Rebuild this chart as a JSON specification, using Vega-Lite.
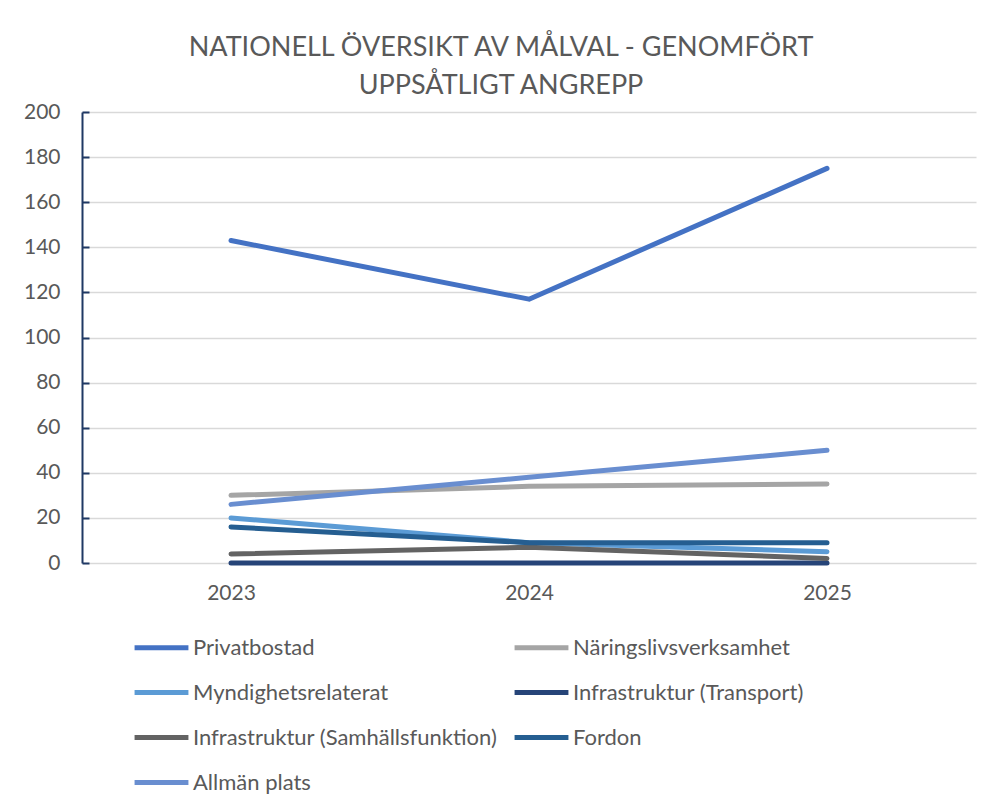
{
  "$schema": "https://vega.github.io/schema/vega-lite/v6.json",
  "autosize": "none",
  "width": 894,
  "height": 451,
  "padding": {"left": 82, "top": 112, "right": 16, "bottom": 247},
  "background": "white",
  "title": {
    "text": ["NATIONELL ÖVERSIKT AV MÅLVAL - GENOMFÖRT", "UPPSÅTLIGT ANGREPP"],
    "font": "Lato",
    "fontSize": 27,
    "fontWeight": "normal",
    "color": "#595959",
    "lineHeight": 38,
    "anchor": "middle",
    "dx": -28,
    "offset": 1
  },
  "data": {
    "values": [
      {"year": "2023", "series": "Privatbostad", "value": 143},
      {"year": "2024", "series": "Privatbostad", "value": 117},
      {"year": "2025", "series": "Privatbostad", "value": 175},
      {"year": "2023", "series": "Näringslivsverksamhet", "value": 30},
      {"year": "2024", "series": "Näringslivsverksamhet", "value": 34},
      {"year": "2025", "series": "Näringslivsverksamhet", "value": 35},
      {"year": "2023", "series": "Myndighetsrelaterat", "value": 20},
      {"year": "2024", "series": "Myndighetsrelaterat", "value": 9},
      {"year": "2025", "series": "Myndighetsrelaterat", "value": 5},
      {"year": "2023", "series": "Infrastruktur (Transport)", "value": 0},
      {"year": "2024", "series": "Infrastruktur (Transport)", "value": 0},
      {"year": "2025", "series": "Infrastruktur (Transport)", "value": 0},
      {"year": "2023", "series": "Infrastruktur (Samhällsfunktion)", "value": 4},
      {"year": "2024", "series": "Infrastruktur (Samhällsfunktion)", "value": 7},
      {"year": "2025", "series": "Infrastruktur (Samhällsfunktion)", "value": 2},
      {"year": "2023", "series": "Fordon", "value": 16},
      {"year": "2024", "series": "Fordon", "value": 9},
      {"year": "2025", "series": "Fordon", "value": 9},
      {"year": "2023", "series": "Allmän plats", "value": 26},
      {"year": "2024", "series": "Allmän plats", "value": 38},
      {"year": "2025", "series": "Allmän plats", "value": 50}
    ]
  },
  "mark": {"type": "line", "strokeWidth": 5, "strokeCap": "round", "strokeJoin": "round"},
  "encoding": {
    "x": {
      "field": "year",
      "type": "ordinal",
      "scale": {"type": "point", "padding": 0.5},
      "axis": {
        "title": null,
        "labelAngle": 0,
        "domain": false,
        "ticks": false,
        "grid": false,
        "labelFont": "Lato",
        "labelFontSize": 21,
        "labelColor": "#595959",
        "labelPadding": 19
      }
    },
    "y": {
      "field": "value",
      "type": "quantitative",
      "scale": {"domain": [0, 200], "nice": false},
      "axis": {
        "title": null,
        "values": [0, 20, 40, 60, 80, 100, 120, 140, 160, 180, 200],
        "domainColor": "#1F3864",
        "domainWidth": 2,
        "tickColor": "#1F3864",
        "tickWidth": 2,
        "tickSize": -7,
        "gridColor": "#D9D9D9",
        "gridWidth": 1.5,
        "labelFont": "Lato",
        "labelFontSize": 21,
        "labelColor": "#595959",
        "labelPadding": 29
      }
    },
    "color": {
      "field": "series",
      "type": "nominal",
      "scale": {
        "domain": ["Privatbostad", "Näringslivsverksamhet", "Myndighetsrelaterat", "Infrastruktur (Transport)", "Infrastruktur (Samhällsfunktion)", "Fordon", "Allmän plats"],
        "range": ["#4472C4", "#A5A5A5", "#5B9BD5", "#264478", "#636363", "#255E91", "#698ED0"]
      },
      "legend": {
        "title": null,
        "orient": "none",
        "direction": "horizontal",
        "legendX": 50,
        "legendY": 506,
        "columns": 2,
        "columnPadding": 6,
        "rowPadding": 4,
        "symbolType": "stroke",
        "symbolSize": 2900,
        "symbolStrokeWidth": 5,
        "labelFont": "Lato",
        "labelFontSize": 22,
        "labelColor": "#595959",
        "labelOffset": 2,
        "labelLimit": 400
      }
    }
  },
  "config": {"view": {"stroke": null}}
}
